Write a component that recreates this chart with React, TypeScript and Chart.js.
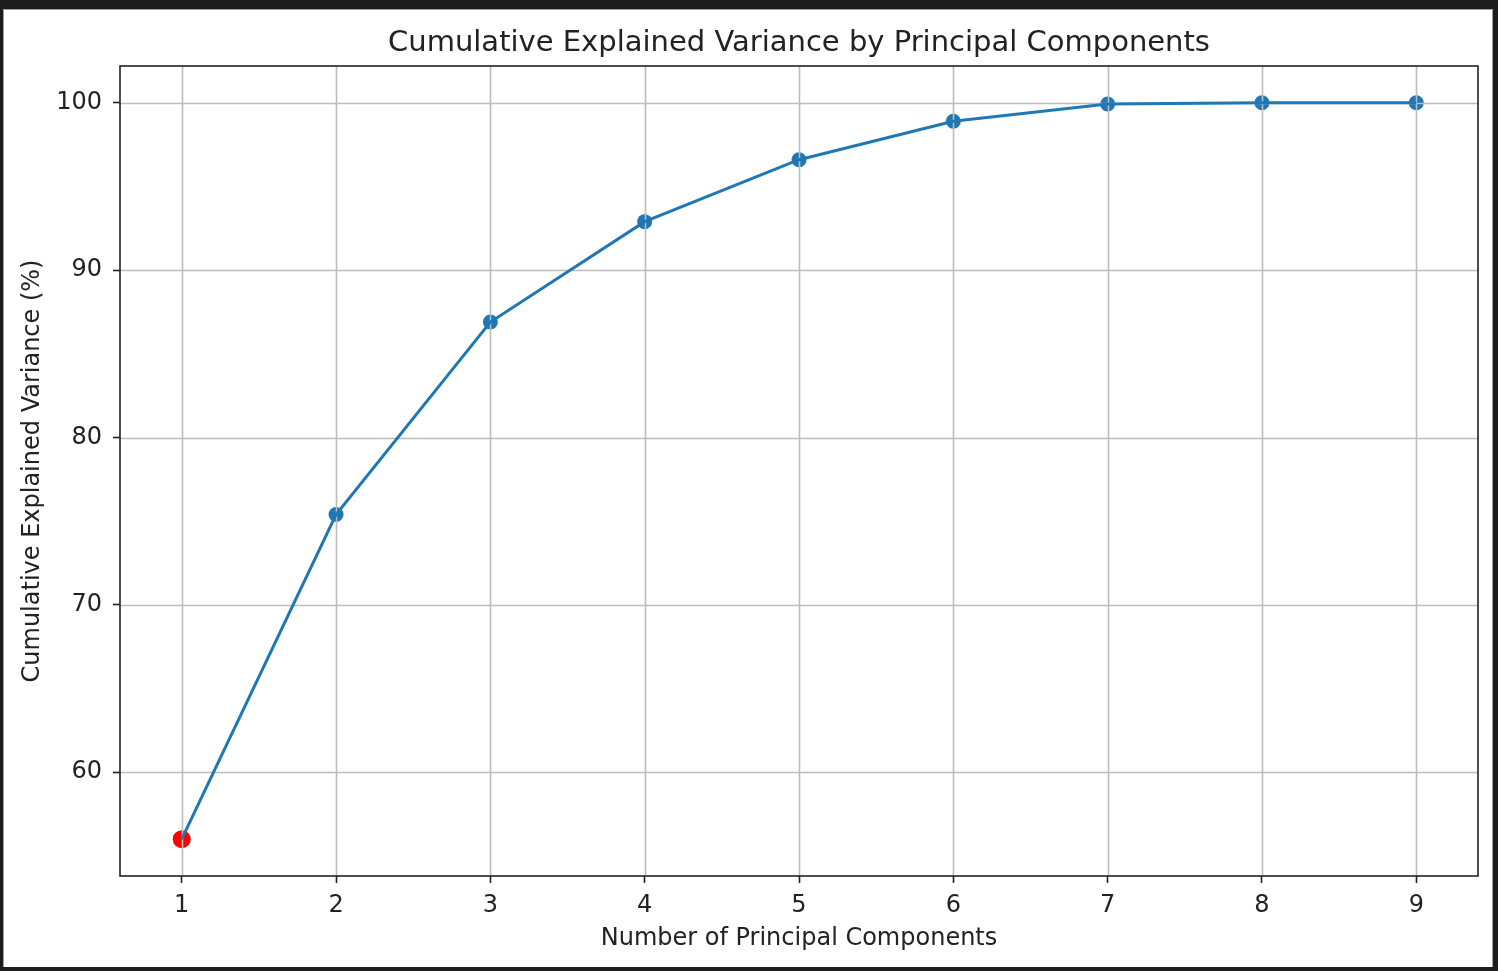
import React, { useEffect, useRef } from "react";
import { Chart, registerables } from "chart.js";

Chart.register(...registerables);

// Cumulative explained variance (%) for each number of retained components
const components = [1, 2, 3, 4, 5, 6, 7, 8, 9];
const cumulativeVariance = [56.0, 75.4, 86.9, 92.9, 96.6, 98.9, 99.93, 100.0, 100.0];
const highlightedComponent = 1;

const xTickValues = [1, 2, 3, 4, 5, 6, 7, 8, 9];
const yTickValues = [60, 70, 80, 90, 100];

const chartTitle = "Cumulative Explained Variance by Principal Components";
const xAxisTitle = "Number of Principal Components";
const yAxisTitle = "Cumulative Explained Variance (%)";

const WIDTH = 1498;
const HEIGHT = 971;
const FONT_FAMILY = "'DejaVu Sans', sans-serif";
const TEXT_COLOR = "#222222";
const LINE_BLUE = "#1f77b4";
const GRID_COLOR = "#bcbcbc";
const SPINE_COLOR = "#222222";

// matplotlib-style 5% data margins
function paddedRange(values: number[]) {
  const lo = Math.min(...values);
  const hi = Math.max(...values);
  const m = (hi - lo) * 0.05;
  return { min: lo - m, max: hi + m };
}

const xRange = paddedRange(components);
const yRange = paddedRange(cumulativeVariance);

// Grid lines sit above the scatter markers but below the connecting line
const gridPlugin = {
  id: "mplGrid",
  beforeDatasetDraw(chart: any, args: any) {
    if (args.index !== 0) return;
    const { ctx, chartArea: a, scales } = chart;
    ctx.save();
    ctx.strokeStyle = GRID_COLOR;
    ctx.lineWidth = 1.6;
    ctx.beginPath();
    xTickValues.forEach((v) => {
      const px = Math.round(scales.x.getPixelForValue(v)) + 0.5;
      ctx.moveTo(px, a.top);
      ctx.lineTo(px, a.bottom);
    });
    yTickValues.forEach((v) => {
      const py = Math.round(scales.y.getPixelForValue(v)) + 0.5;
      ctx.moveTo(a.left, py);
      ctx.lineTo(a.right, py);
    });
    ctx.stroke();
    ctx.restore();
  },
  afterDatasetsDraw(chart: any) {
    const { ctx, chartArea: a } = chart;
    ctx.save();
    ctx.strokeStyle = SPINE_COLOR;
    ctx.lineWidth = 1.6;
    ctx.strokeRect(a.left, a.top, a.right - a.left, a.bottom - a.top);
    ctx.restore();
  },
  afterDraw(chart: any) {
    const { ctx, chartArea: a } = chart;
    ctx.save();
    ctx.fillStyle = TEXT_COLOR;
    ctx.font = `29px ${FONT_FAMILY}`;
    ctx.textAlign = "center";
    ctx.textBaseline = "alphabetic";
    ctx.fillText(chartTitle, (a.left + a.right) / 2, 51);
    ctx.restore();
  },
};

export default function App() {
  const canvasRef = useRef<HTMLCanvasElement | null>(null);

  useEffect(() => {
    const canvas = canvasRef.current;
    if (!canvas) return;

    const points = components.map((c, i) => ({ x: c, y: cumulativeVariance[i] }));
    const hiIdx = components.indexOf(highlightedComponent);
    const highlighted = [{ x: components[hiIdx], y: cumulativeVariance[hiIdx] }];

    const tickFont = { family: FONT_FAMILY, size: 24 };

    const chart = new Chart(canvas, {
      type: "line",
      data: {
        datasets: [
          {
            label: "line",
            data: points,
            borderColor: LINE_BLUE,
            borderWidth: 3,
            pointRadius: 0,
            tension: 0,
            fill: false,
            order: 1,
          },
          {
            label: "highlight",
            data: highlighted,
            showLine: false,
            pointRadius: 9,
            pointBackgroundColor: "#ff0000",
            pointBorderWidth: 0,
            order: 2,
          },
          {
            label: "markers",
            data: points,
            showLine: false,
            pointRadius: 7.5,
            pointBackgroundColor: LINE_BLUE,
            pointBorderWidth: 0,
            order: 3,
          },
        ],
      },
      options: {
        responsive: false,
        maintainAspectRatio: false,
        devicePixelRatio: 1,
        animation: false,
        layout: { padding: { top: 66, left: 0, right: 20, bottom: 18 } },
        plugins: {
          legend: { display: false },
          tooltip: { enabled: false },
          title: { display: false },
        },
        scales: {
          x: {
            type: "linear",
            min: xRange.min,
            max: xRange.max,
            afterBuildTicks: (scale: any) => {
              scale.ticks = xTickValues.map((v) => ({ value: v }));
            },
            afterFit: (scale: any) => {
              scale.height = 77;
            },
            ticks: {
              font: tickFont,
              color: TEXT_COLOR,
              padding: 8,
              maxRotation: 0,
              autoSkip: false,
              callback: (v: any) => String(v),
            },
            grid: {
              drawOnChartArea: false,
              drawTicks: true,
              tickLength: 7,
              tickWidth: 1.6,
              tickColor: SPINE_COLOR,
            },
            border: { display: false },
            title: {
              display: true,
              text: xAxisTitle,
              font: tickFont,
              color: TEXT_COLOR,
              padding: { top: 0, bottom: 0 },
            },
          },
          y: {
            type: "linear",
            min: yRange.min,
            max: yRange.max,
            afterBuildTicks: (scale: any) => {
              scale.ticks = yTickValues.map((v) => ({ value: v }));
            },
            afterFit: (scale: any) => {
              scale.width = 120;
            },
            ticks: {
              font: tickFont,
              color: TEXT_COLOR,
              padding: 11,
              autoSkip: false,
              callback: (v: any) => String(v),
            },
            grid: {
              drawOnChartArea: false,
              drawTicks: true,
              tickLength: 7,
              tickWidth: 1.6,
              tickColor: SPINE_COLOR,
            },
            border: { display: false },
            title: {
              display: true,
              text: yAxisTitle,
              font: tickFont,
              color: TEXT_COLOR,
              padding: { top: 18, bottom: 0 },
            },
          },
        },
      },
      plugins: [gridPlugin],
    } as any);

    return () => chart.destroy();
  }, []);

  return (
    <div
      style={{
        position: "fixed",
        left: 0,
        top: 0,
        width: WIDTH,
        height: HEIGHT,
        background: "#ffffff",
        overflow: "hidden",
      }}
    >
      <canvas ref={canvasRef} width={WIDTH} height={HEIGHT} style={{ display: "block" }} />
      <div
        style={{
          position: "absolute",
          left: 0,
          top: 0,
          width: WIDTH,
          height: HEIGHT,
          boxSizing: "border-box",
          borderTop: "9px solid #1c1c1c",
          borderLeft: "3px solid #1c1c1c",
          borderRight: "5px solid #1c1c1c",
          borderBottom: "4px solid #1c1c1c",
          pointerEvents: "none",
        }}
      >
        <div
          style={{
            position: "absolute",
            inset: 0,
            borderTop: "1px solid #a0a0a0",
            borderLeft: "1px solid #a0a0a0",
            borderRight: "1px solid #a0a0a0",
          }}
        />
      </div>
    </div>
  );
}
